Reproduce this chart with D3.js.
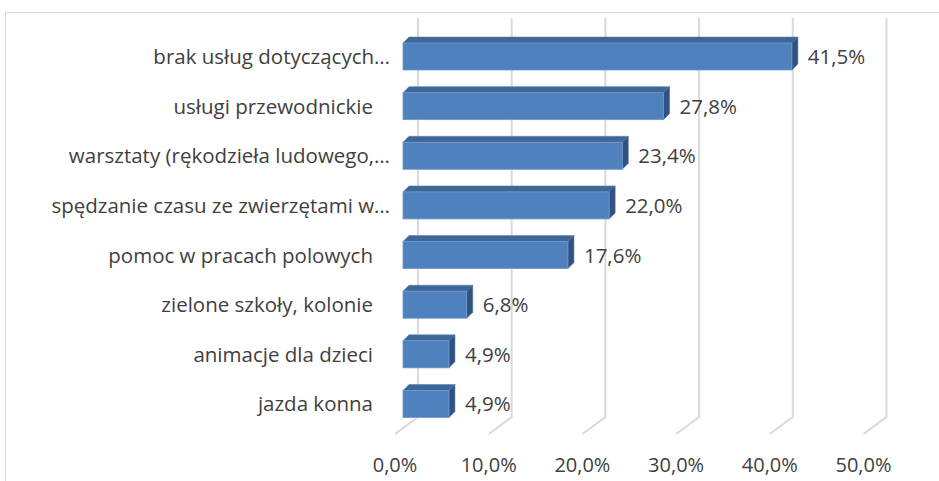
<!DOCTYPE html>
<html><head><meta charset="utf-8">
<script src="https://cdn.jsdelivr.net/npm/d3@7"></script>
<style>
html,body{margin:0;padding:0;background:#fff;}
svg text{font-family:"Open Sans",Lato,sans-serif;fill:#404040;}
</style></head>
<body><svg id="c" width="939" height="481"></svg>
<script>
const categories = ["brak usług dotyczących…","usługi przewodnickie","warsztaty (rękodzieła ludowego,…","spędzanie czasu ze zwierzętami w…","pomoc w pracach polowych","zielone szkoły, kolonie","animacje dla dzieci","jazda konna"];
const values = [41.5, 27.8, 23.4, 22.0, 17.6, 6.8, 4.9, 4.9];
const valueLabels = ["41,5%","27,8%","23,4%","22,0%","17,6%","6,8%","4,9%","4,9%"];
const ticks = [0,10,20,30,40,50];
const tickLabels = ["0,0%","10,0%","20,0%","30,0%","40,0%","50,0%"];

const svg = d3.select("#c");
const W = 939, H = 481;
svg.append("rect").attr("x",5.5).attr("y",12.5).attr("width",W+10).attr("height",H+10)
  .attr("fill","none").attr("stroke","#d9d9d9").attr("stroke-width",1);

const x = d3.scaleLinear().domain([0,50]).range([403, 871.5]);
const backOff = 15, floorOff = -8;
const y = d3.scalePoint().domain(categories).range([56.5, 404]);
const barH = 27, dep = 6;
const wallTop = 18, wallBottom = 417, floorFront = 434;

const grid = svg.append("g");
ticks.forEach(t => {
  const xb = x(t) + backOff, xf = x(t) + floorOff;
  grid.append("path")
    .attr("d", `M${xb},${wallTop}L${xb},${wallBottom}L${xf},${floorFront}`)
    .attr("fill","none").attr("stroke","#d9d9d9").attr("stroke-width",2);
});

svg.append("g").selectAll("text").data(ticks).join("text")
  .attr("x", t => x(t) + floorOff).attr("y", 467)
  .attr("text-anchor","middle").attr("dominant-baseline","middle")
  .attr("font-size",20).text((t,i) => tickLabels[i]);

const bars = svg.append("g").selectAll("g").data(values).join("g");
bars.each(function(v,i){
  const g = d3.select(this);
  const x0 = x(0), x1 = x(v), top = y(categories[i]) - barH/2, bot = top + barH;
  g.append("path").attr("d",`M${x0},${top}L${x0+dep},${top-dep}L${x1+dep},${top-dep}L${x1},${top}Z`)
    .attr("fill","#3e6797").attr("stroke","#5a83b8").attr("stroke-width",0.6);
  g.append("path").attr("d",`M${x1},${top}L${x1+dep},${top-dep}L${x1+dep},${bot-dep}L${x1},${bot}Z`)
    .attr("fill","#2f5282").attr("stroke","#4a6e9c").attr("stroke-width",0.6);
  g.append("rect").attr("x",x0).attr("y",top).attr("width",x1-x0).attr("height",barH)
    .attr("fill","#4f81bd").attr("stroke","#6c98cf").attr("stroke-width",0.8);
});

svg.append("g").selectAll("text").data(values).join("text")
  .attr("x", v => x(v) + dep + 10).attr("y", (v,i) => y(categories[i]) + 2)
  .attr("dominant-baseline","middle").attr("font-size",20.5)
  .text((v,i) => valueLabels[i]);

svg.append("g").selectAll("text").data(categories).join("text")
  .attr("x", d => d.endsWith("…") ? 390 : 373).attr("y", d => y(d) + 2)
  .attr("text-anchor","end").attr("dominant-baseline","middle")
  .attr("font-size",20.5).text(d => d);
</script></body></html>
